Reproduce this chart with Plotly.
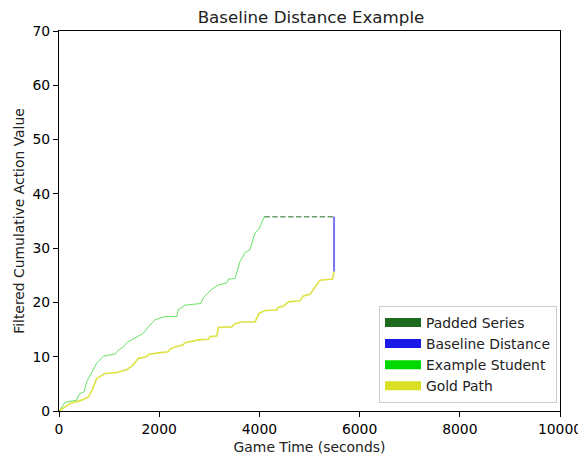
import plotly.graph_objects as go

# Example Student trajectory (seconds, cumulative value)
student_x = [0, 20, 120, 353, 400, 505, 553, 652, 752, 885, 1118, 1184, 1284, 1351, 1683, 1783,
             1916, 2116, 2349, 2382, 2515, 2834, 2881, 3047, 3180, 3347, 3380, 3513, 3613, 3713,
             3812, 3912, 3992, 4099]
student_y = [0, 0.2, 1.6, 2.0, 3.1, 3.6, 5.4, 7.2, 8.8, 10.1, 10.5, 11.2, 11.8, 12.6, 14.3, 15.5,
             16.8, 17.4, 17.4, 18.7, 19.5, 19.8, 20.9, 22.4, 23.2, 23.6, 24.3, 24.4, 27.5, 29.2,
             29.7, 32.8, 33.5, 35.8]

# Gold Path trajectory
gold_x = [0, 20, 220, 353, 453, 585, 665, 752, 852, 918, 1151, 1351, 1483, 1583, 1750, 1783,
          1982, 2182, 2216, 2315, 2482, 2515, 2781, 2981, 3014, 3147, 3180, 3447, 3513, 3646,
          3912, 3992, 4112, 4345, 4378, 4478, 4577, 4810, 4877, 5010, 5110, 5210, 5460, 5490]
gold_y = [0, 0.1, 1.4, 1.7, 2.0, 2.6, 3.9, 6.0, 6.6, 6.9, 7.1, 7.6, 8.5, 9.7, 10.0, 10.4,
          10.7, 10.9, 11.4, 11.8, 12.2, 12.6, 13.1, 13.2, 13.7, 13.8, 15.4, 15.5, 16.1, 16.4,
          16.4, 18.0, 18.5, 18.6, 19.1, 19.3, 20.1, 20.3, 21.2, 21.5, 22.8, 24.1, 24.3, 25.7]

# Padded series (student final value held until gold path end)
padded_x = [4099, 5490]
padded_y = [35.8, 35.8]

# Baseline distance (vertical gap at end)
baseline_x = [5490, 5490]
baseline_y = [25.7, 35.8]

x_ticks = [0, 2000, 4000, 6000, 8000, 10000]
x_tick_labels = ["0", "2000", "4000", "6000", "8000", "10000"]
y_ticks = [0, 10, 20, 30, 40, 50, 60, 70]
y_tick_labels = ["0", "10", "20", "30", "40", "50", "60", "70"]

legend_names = ["Padded Series", "Baseline Distance", "Example Student", "Gold Path"]
legend_colors = ["#1e6b1e", "#1a1ae6", "#00d800", "#d9df22"]

FS = 13.9

fig = go.Figure()

fig.add_trace(go.Scatter(x=student_x, y=student_y, mode="lines",
                         line=dict(color="rgba(40,215,40,0.7)", width=1), showlegend=False))
fig.add_trace(go.Scatter(x=gold_x, y=gold_y, mode="lines",
                         line=dict(color="rgba(216,221,34,0.85)", width=1.6), showlegend=False))
fig.add_trace(go.Scatter(x=padded_x, y=padded_y, mode="lines",
                         line=dict(color="rgba(30,107,30,0.65)", width=1.5, dash="5.5px,2.4px"),
                         showlegend=False))
fig.add_trace(go.Scatter(x=baseline_x, y=baseline_y, mode="lines",
                         line=dict(color="rgba(26,26,230,0.6)", width=2), showlegend=False))

for name, col in zip(legend_names, legend_colors):
    fig.add_trace(go.Scatter(x=[None], y=[None], mode="lines",
                             line=dict(color=col, width=9), name=name, showlegend=True))

axis_common = dict(showline=True, linecolor="black", linewidth=1.1, mirror=True,
                   ticks="outside", ticklen=5, tickwidth=1.1, tickcolor="black", showgrid=False,
                   zeroline=False, automargin=False, tickfont=dict(size=FS, color="black"))

fig.update_layout(
    width=578, height=451,
    margin=dict(l=51, r=26, t=23, b=48, autoexpand=False),
    paper_bgcolor="white", plot_bgcolor="white",
    font=dict(family="DejaVu Sans", color="#222222"),
    title=dict(text="Baseline Distance Example", x=0.503, xref="paper", xanchor="center",
               yref="container", y=0.980, yanchor="middle", automargin=False,
               font=dict(size=16.7, color="#222222")),
    xaxis=dict(range=[0, 10000], tickvals=x_ticks, ticktext=x_tick_labels,
               title=dict(text="Game Time (seconds)", font=dict(size=FS), standoff=6), **axis_common),
    yaxis=dict(range=[0, 70], tickvals=y_ticks, ticktext=y_tick_labels,
               title=dict(text="Filtered Cumulative Action Value", font=dict(size=FS), standoff=4),
               **axis_common),
    legend=dict(x=0.994, y=0.021, xanchor="right", yanchor="bottom",
                bgcolor="white", bordercolor="#cccccc", borderwidth=1, itemwidth=36,
                font=dict(size=FS, color="#222222"), traceorder="normal"),
)

fig.write_html("out.html")
